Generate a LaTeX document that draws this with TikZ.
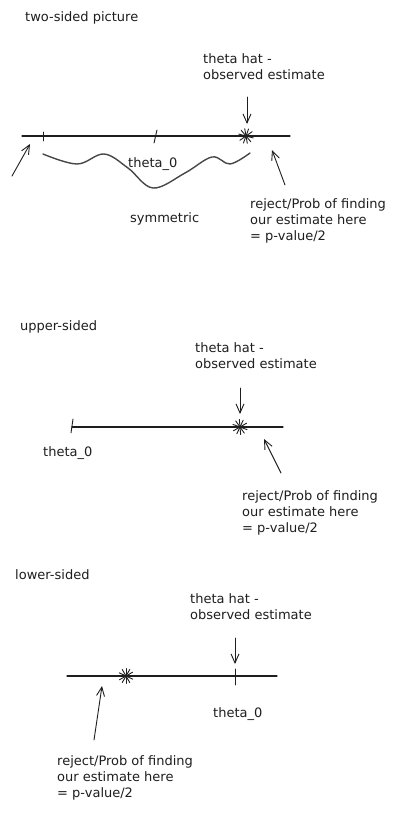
\documentclass[tikz,border=0pt]{standalone}
\usepackage{fontspec}
\newfontfamily\sketchfont{DejaVu Sans}
\usetikzlibrary{arrows.meta}
\definecolor{ink}{HTML}{1E1E1E}
\definecolor{wave}{HTML}{474747}

\begin{document}
\begin{tikzpicture}[
  x=1pt, y=-1pt,
  >={Straight Barb[length=9pt,width=8pt]},
  axis/.style    = {draw=ink, line width=1.1pt, line cap=round},
  tickmark/.style= {draw=ink, line width=0.9pt, line cap=round},
  pointer/.style = {->, draw=ink, line width=0.9pt, line cap=round},
  label/.style   = {anchor=north west, inner sep=0pt, align=left, text=ink,
                    font=\sketchfont\fontsize{13}{16}\selectfont},
  estmark/.style = {inner sep=0pt, minimum size=0pt}
]
\useasboundingbox[fill=white] (0,0) rectangle (405,814);

% ---------------- two-sided ----------------
\node[label] (title1) at (25,11) {two-sided picture};
\node[label] (hatlbl1) at (203,53) {theta hat -\\observed estimate};

\coordinate (l1a) at (22,136);
\coordinate (l1b) at (290,136);
\draw[axis] (l1a) -- (l1b);

% ticks
\draw[tickmark] (43,132) -- (43,141);
\draw[tickmark] (157,130) -- (154,143);

% estimate
\node[estmark] (hat1) at (246,136) {};
\foreach \a in {15,50,80,110,145} \draw[tickmark] (hat1) ++(\a:7.5) -- ++(\a+180:15);

\coordinate (down1) at (247,97);
\coordinate (down1t) at (247,124);
\draw[pointer] (down1) -- (down1t);

% symmetric wave
\draw[draw=wave, line width=1.4pt, line cap=round] plot[smooth, tension=0.6]
  coordinates {(43,154) (77,164) (104,154) (128,168) (153,188) (185,173) (212,157) (230,164) (250,153)};

\node[label] (theta1) at (128,157) {theta\_0};
\node[label] (sym1) at (130,212) {symmetric};

% tails
\coordinate (lt1) at (12,176);
\coordinate (lt1t) at (30,144);
\draw[pointer] (lt1) -- (lt1t);
\coordinate (rt1) at (285,185);
\coordinate (rt1t) at (272,150);
\draw[pointer] (rt1) -- (rt1t);

\node[label] (rej1) at (250,198) {reject/Prob of finding\\our estimate here\\= p-value/2};

% ---------------- upper-sided ----------------
\node[label] (title2) at (20,320) {upper-sided};
\node[label] (hatlbl2) at (195,342) {theta hat -\\observed estimate};

\coordinate (l2a) at (72,427);
\coordinate (l2b) at (283,427);
\draw[axis] (l2a) -- (l2b);
\draw[tickmark] (73,419) -- (71,433);

\node[estmark] (hat2) at (240,427) {};
\foreach \a in {20,55,85,115,150} \draw[tickmark] (hat2) ++(\a:7.5) -- ++(\a+180:15);

\coordinate (down2) at (240,388);
\coordinate (down2t) at (240,414);
\draw[pointer] (down2) -- (down2t);

\node[label] (theta2) at (43,446) {theta\_0};

\coordinate (rt2) at (281,473);
\coordinate (rt2t) at (264,439);
\draw[pointer] (rt2) -- (rt2t);

\node[label] (rej2) at (242,490) {reject/Prob of finding\\our estimate here\\= p-value/2};

% ---------------- lower-sided ----------------
\node[label] (title3) at (15,569) {lower-sided};
\node[label] (hatlbl3) at (190,593) {theta hat -\\observed estimate};

\coordinate (l3a) at (67,676);
\coordinate (l3b) at (277,676);
\draw[axis] (l3a) -- (l3b);
\draw[tickmark] (235,669) -- (235,685);

\node[estmark] (hat3) at (126,676) {};
\foreach \a in {25,60,90,120,150} \draw[tickmark] (hat3) ++(\a:7.5) -- ++(\a+180:15);

\coordinate (down3) at (235,638);
\coordinate (down3t) at (235,664);
\draw[pointer] (down3) -- (down3t);

\node[label] (theta3) at (213,707) {theta\_0};

\coordinate (lt3) at (94,740);
\coordinate (lt3t) at (102,686);
\draw[pointer] (lt3) -- (lt3t);

\node[label] (rej3) at (57,755) {reject/Prob of finding\\our estimate here\\= p-value/2};

\end{tikzpicture}
\end{document}
